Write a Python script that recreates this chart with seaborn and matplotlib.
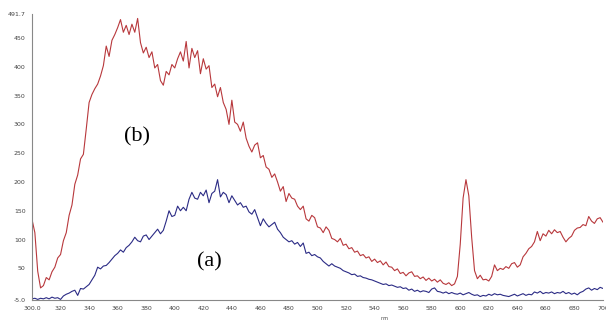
import numpy as np
import pandas as pd
import matplotlib
matplotlib.use("Agg")
import matplotlib.pyplot as plt
import seaborn as sns

# wavelength grid (nm), 2 nm steps from 300 to 700
wavelength = np.arange(300, 701, 2)

# (b) red spectrum
series_b = [
    135, 112, 45, 16, 20, 34, 30, 44, 52, 68,            # 300-318
    74, 98, 112, 142, 160, 196, 212, 240, 248, 292,      # 320-338
    338, 352, 362, 370, 384, 402, 436, 418, 446, 456,    # 340-358
    468, 482, 460, 472, 456, 474, 460, 484, 442, 424,    # 360-378
    434, 416, 426, 398, 404, 376, 368, 392, 386, 404,    # 380-398
    398, 414, 426, 410, 444, 398, 432, 416, 428, 388,    # 400-418
    414, 396, 402, 364, 370, 348, 364, 338, 326, 300,    # 420-438
    342, 304, 300, 288, 304, 276, 262, 252, 264, 268,    # 440-458
    242, 246, 226, 222, 208, 214, 200, 184, 192, 166,    # 460-478
    180, 172, 170, 158, 152, 158, 136, 132, 142, 138,    # 480-498
    122, 120, 112, 122, 116, 102, 100, 96, 102, 90,      # 500-518
    92, 84, 86, 78, 80, 72, 74, 68, 70, 62,              # 520-538
    66, 60, 63, 56, 61, 53, 52, 46, 49, 41,              # 540-558
    43, 37, 42, 44, 36, 37, 32, 35, 29, 33,              # 560-578
    28, 31, 26, 30, 24, 22, 25, 20, 23, 36,              # 580-598
    92, 172, 204, 176, 104, 46, 32, 38, 30, 31,          # 600-618
    28, 36, 56, 46, 50, 48, 53, 50, 58, 60,              # 620-638
    52, 56, 70, 76, 84, 88, 96, 114, 98, 110,            # 640-658
    106, 116, 110, 117, 112, 114, 104, 96, 102, 106,     # 660-678
    116, 120, 121, 126, 124, 140, 132, 128, 136, 138,    # 680-698
    130,                                                 # 700
]

# (a) blue spectrum
series_a = [
    -3, -2, -4, -2, -3, -1, -3, 0, -2, -1,               # 300-318
    -4, 2, 5, 7, 10, 12, 3, 15, 14, 18,                  # 320-338
    22, 30, 38, 52, 49, 54, 55, 60, 66, 72,              # 340-358
    76, 82, 78, 86, 90, 96, 104, 98, 96, 106,            # 360-378
    108, 100, 106, 112, 118, 110, 116, 132, 150, 140,    # 380-398
    142, 158, 150, 156, 150, 170, 182, 172, 170, 182,    # 400-418
    176, 186, 164, 180, 184, 204, 174, 182, 178, 164,    # 420-438
    176, 168, 160, 164, 156, 158, 148, 144, 152, 138,    # 440-458
    124, 136, 128, 122, 126, 130, 118, 112, 104, 100,    # 460-478
    96, 98, 92, 95, 88, 94, 76, 78, 72, 74,              # 480-498
    70, 68, 62, 58, 54, 58, 54, 52, 50, 46,              # 500-518
    44, 42, 39, 40, 36, 37, 34, 33, 31, 30,              # 520-538
    28, 26, 24, 22, 23, 20, 21, 19, 17, 18,              # 540-558
    15, 16, 12, 14, 10, 12, 9, 11, 10, 8,                # 560-578
    14, 16, 10, 9, 7, 9, 6, 8, 6, 5,                     # 580-598
    7, 4, 6, 8, 5, 3, 4, 1, 3, 2,                        # 600-618
    5, 3, 6, 4, 5, 3, 2, 1, 3, 5,                        # 620-638
    2, 4, 6, 3, 5, 4, 9, 7, 10, 6,                       # 640-658
    8, 7, 9, 6, 8, 7, 10, 6, 8, 5,                       # 660-678
    7, 4, 8, 10, 14, 16, 12, 15, 13, 17,                 # 680-698
    15,                                                  # 700
]

x_ticks = [300, 320, 340, 360, 380, 400, 420, 440, 460, 480, 500,
           520, 540, 560, 580, 600, 620, 640, 660, 680, 700]
x_tick_labels = ["300.0"] + [str(v) for v in x_ticks[1:]]
y_ticks = [-5.0, 50, 100, 150, 200, 250, 300, 350, 400, 450, 491.7]
y_tick_labels = ["-5.0", "50", "100", "150", "200", "250", "300",
                 "350", "400", "450", "491.7"]

df = pd.DataFrame({"nm": wavelength, "a": series_a, "b": series_b})

sns.set_style("white")
plt.rcParams["font.family"] = ["DejaVu Sans"]

fig = plt.figure(figsize=(6.06, 3.2), dpi=100)
ax = fig.add_axes([32 / 606, 20 / 320, (603 - 32) / 606, (300 - 14) / 320])

sns.lineplot(data=df, x="nm", y="b", color="#b8383c", linewidth=0.8, ax=ax)
sns.lineplot(data=df, x="nm", y="a", color="#2b2b85", linewidth=0.8, ax=ax)

ax.set_xlim(300, 700)
ax.set_ylim(-5.0, 491.7)
ax.set_xticks(x_ticks)
ax.set_xticklabels(x_tick_labels)
ax.set_yticks(y_ticks)
ax.set_yticklabels(y_tick_labels)
ax.tick_params(axis="both", labelsize=4.5, colors="#555555", length=2.5,
               width=0.6, direction="out", pad=2)
ax.tick_params(axis="both", labelcolor="#444444")
ax.set_ylabel("")
ax.set_xlabel("nm", fontsize=3.5, color="#444444")
ax.xaxis.set_label_coords(0.618, -0.055)

for side in ["top", "right"]:
    ax.spines[side].set_visible(False)
for side in ["left", "bottom"]:
    ax.spines[side].set_color("#888888")
    ax.spines[side].set_linewidth(0.8)

ax.text(373.5, 278, "(b)", fontsize=16, family=["Liberation Serif"],
        ha="center", va="center", color="black")
ax.text(424.5, 61, "(a)", fontsize=16, family=["Liberation Serif"],
        ha="center", va="center", color="black")

fig.savefig("out.png", dpi=100)
